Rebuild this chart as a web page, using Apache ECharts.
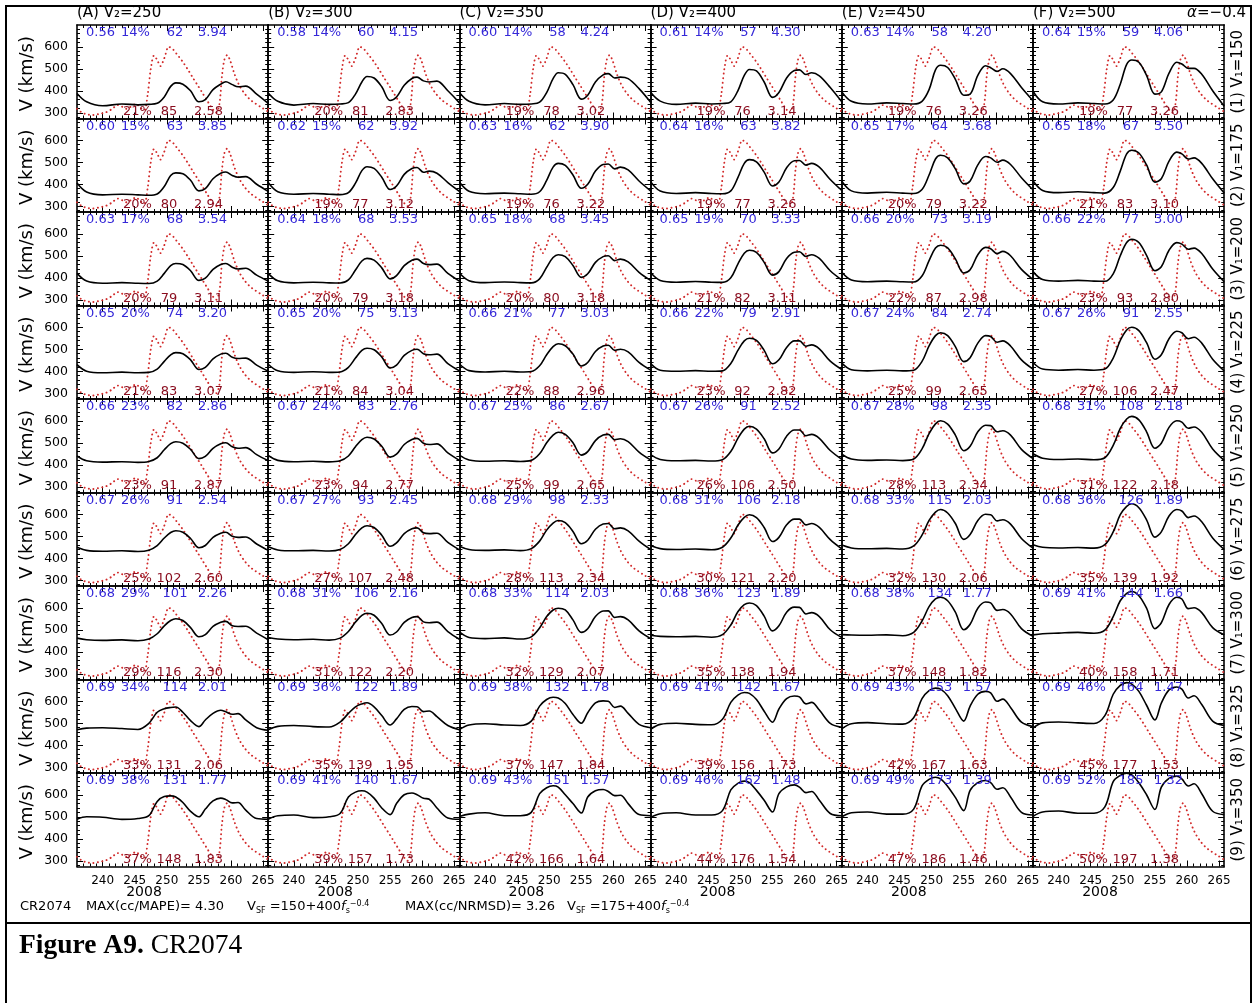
<!DOCTYPE html>
<html><head><meta charset="utf-8">
<script src="https://cdn.jsdelivr.net/npm/echarts@6/dist/echarts.min.js"></script>
<style>html,body{margin:0;padding:0;background:#fff}#c{width:1256px;height:1003px}</style>
</head><body><div id="c"></div>
<script>
const COLUMN_LABELS = ['(A)','(B)','(C)','(D)','(E)','(F)'];
const V2_VALUES = [250,300,350,400,450,500];
const V1_VALUES = [150,175,200,225,250,275,300,325,350];
const X_MIN = 236.0, X_MAX = 265.8, Y_MIN = 274, Y_MAX = 699;
const X_TICKS = [240,245,250,255,260,265];
const X_MINOR = [237,238,239,241,242,243,244,246,247,248,249,251,252,253,254,256,257,258,259,261,262,263,264];
const Y_TICKS = [300,400,500,600];
const Y_MINOR = [280,320,340,360,380,420,440,460,480,520,540,560,580,620,640,660,680];

// observed solar wind speed (red dotted), day of year 2008
const OBS_DAY = [236.0,236.7,237.5,238.5,239.5,240.5,241.5,242.3,243.0,243.7,244.5,245.2,245.9,246.5,247.0,247.5,248.0,248.5,249.0,249.6,250.3,250.9,251.6,252.4,253.2,254.0,254.8,255.6,256.4,257.1,257.7,258.2,258.6,259.0,259.4,259.9,260.5,261.2,262.0,262.9,263.8,264.7,265.8];
const OBS_V   = [318,302,293,290,295,302,318,335,328,318,330,340,322,312,380,500,560,540,512,548,600,590,565,535,500,462,425,388,350,318,300,340,470,545,562,535,480,430,392,362,342,325,305];

// model speed (black), sampled at these days
const MODEL_DAY = [236.0,237.5,240.0,243.0,245.5,247.2,248.5,249.6,250.6,251.4,252.5,253.7,255.0,256.0,257.2,258.4,259.2,260.2,261.1,262.3,264.0,265.8];
const MODEL_ROW1 = [
 [388,350,332,340,336,338,343,372,420,436,430,400,350,360,405,430,441,428,418,421,385,343],
 [390,352,335,342,338,340,346,385,440,465,458,418,356,372,425,456,462,445,440,444,400,345],
 [392,352,336,342,338,340,348,392,455,482,475,428,362,380,440,472,478,458,462,455,410,348],
 [393,353,338,344,340,342,350,400,470,497,490,440,370,392,458,492,495,474,482,468,415,350],
 [395,352,340,345,342,340,352,405,495,516,506,452,380,385,470,514,505,488,500,478,415,355],
 [398,350,340,345,342,340,358,430,520,540,530,470,385,395,480,530,522,502,502,475,400,330]];
const MODEL_ROW2 = [
 [406,365,352,355,352,350,356,390,440,452,448,418,370,380,425,450,456,440,432,435,400,368],
 [408,366,355,358,355,353,362,405,462,480,472,432,376,392,445,472,476,455,460,450,408,368],
 [410,368,357,360,357,355,366,418,478,495,486,442,382,400,460,490,492,470,478,465,415,370],
 [412,369,358,362,358,357,370,430,495,512,502,455,392,410,475,507,508,487,495,478,422,372],
 [414,370,360,364,360,358,376,442,515,532,520,470,402,415,488,526,520,500,510,490,430,375],
 [416,372,362,366,362,360,385,460,538,555,542,488,410,425,505,546,538,515,520,495,425,360]];
const MODEL_ROW3 = [
 [420,385,375,378,375,374,385,420,455,465,460,432,388,398,438,460,465,448,440,443,412,385],
 [420,386,377,380,377,376,390,435,476,488,480,445,395,410,455,480,485,465,460,462,420,385],
 [422,387,378,381,378,377,395,448,492,505,496,456,402,418,470,496,500,478,485,472,425,388],
 [424,388,380,383,380,379,400,462,512,525,515,470,412,428,488,516,518,497,505,488,432,390],
 [425,390,382,385,382,381,408,478,535,548,536,486,422,436,505,538,532,510,520,500,438,392],
 [428,392,385,388,385,384,418,500,560,575,560,502,432,450,525,560,553,530,535,510,440,382]];
const MODEL_ROW4 = [
 [430,400,393,396,393,395,410,445,475,485,480,452,408,418,456,478,482,464,458,460,428,400],
 [432,402,395,398,395,397,418,460,495,505,498,465,415,428,472,495,500,480,475,478,435,402],
 [433,403,397,400,397,399,425,475,512,525,516,478,424,440,490,515,518,495,500,488,440,405],
 [435,405,400,403,400,402,435,495,538,550,540,495,434,452,508,538,538,514,520,502,446,408],
 [437,407,402,405,402,405,445,515,562,575,562,512,444,462,528,562,558,532,538,515,452,410],
 [440,410,405,408,405,410,460,540,588,600,585,530,455,475,548,582,575,548,555,528,455,402]];
const MODEL_ROW5 = [
 [440,418,412,414,411,415,432,468,496,505,498,470,428,438,475,496,500,482,475,478,446,418],
 [442,420,414,416,413,418,440,482,514,525,517,484,435,448,492,515,520,498,492,495,454,420],
 [444,422,416,418,415,420,450,500,535,548,538,500,444,460,510,535,538,514,518,505,458,422],
 [446,424,418,420,417,423,460,520,562,575,562,518,454,472,530,558,558,532,538,520,465,425],
 [448,426,420,422,419,426,472,542,586,600,585,535,464,484,550,580,578,550,555,535,470,428],
 [450,430,424,426,423,432,488,565,608,620,604,550,475,498,570,600,594,566,572,548,472,420]];
const MODEL_ROW6 = [
 [450,436,432,434,431,437,458,492,517,525,518,490,448,458,495,514,518,500,495,497,465,436],
 [452,438,434,436,433,440,466,508,538,548,540,505,455,470,512,534,538,516,512,514,472,438],
 [455,440,436,438,435,444,478,528,560,572,562,522,466,482,532,556,558,534,538,525,478,440],
 [458,444,440,442,439,450,492,550,586,598,585,540,476,495,552,578,578,552,558,540,485,443],
 [460,447,443,445,442,456,505,572,610,622,606,558,486,508,572,600,598,570,575,555,490,446],
 [462,450,447,449,446,462,520,598,636,648,630,575,496,520,592,622,615,585,592,566,492,440]];
const MODEL_ROW7 = [
 [462,455,452,454,450,458,482,518,542,550,542,510,468,478,515,534,538,518,515,516,485,455],
 [465,458,455,457,453,462,492,535,565,575,566,528,476,490,534,556,560,536,532,535,492,457],
 [490,465,460,463,458,468,508,560,590,598,590,545,488,505,560,585,586,556,560,545,495,460],
 [475,470,468,470,466,478,522,582,614,622,610,562,495,518,580,603,602,572,578,560,500,465],
 [478,476,475,477,473,488,540,605,640,648,632,580,500,525,598,626,622,588,592,572,505,470],
 [477,482,485,488,484,498,560,632,666,674,655,598,505,532,615,648,640,596,600,578,510,477]];
const MODEL_ROW8 = [
 [471,478,480,476,472,500,550,566,572,574,550,512,485,515,545,559,552,541,544,515,480,468],
 [471,486,490,485,483,505,545,575,588,593,575,535,492,520,563,576,575,553,556,530,490,471],
 [471,492,498,492,490,510,578,608,618,615,590,540,500,548,593,602,600,572,578,545,495,480],
 [473,495,500,495,493,518,595,628,640,636,608,555,505,565,612,624,620,588,595,560,500,482],
 [475,498,503,498,496,525,612,648,660,655,625,568,510,578,632,645,638,600,610,572,505,485],
 [478,502,506,502,499,535,632,672,685,678,645,582,515,592,652,665,655,615,625,585,510,490]];
const MODEL_ROW9 = [
 [489,500,498,488,492,505,570,592,595,590,565,525,500,535,572,585,578,563,565,530,492,489],
 [489,505,508,496,500,515,590,612,618,612,585,540,510,560,600,608,600,584,580,540,495,489],
 [501,512,518,505,505,520,605,632,641,635,600,560,517,590,618,624,615,596,598,560,510,505],
 [497,514,518,508,508,528,622,652,662,655,620,575,522,605,636,645,635,610,615,575,515,505],
 [500,518,522,512,512,535,640,670,680,672,638,588,528,620,655,665,655,625,632,590,520,508],
 [502,522,526,516,516,545,660,688,698,690,655,600,533,635,675,685,672,640,650,605,525,510]];
const MODEL = [MODEL_ROW1,MODEL_ROW2,MODEL_ROW3,MODEL_ROW4,MODEL_ROW5,MODEL_ROW6,MODEL_ROW7,MODEL_ROW8,MODEL_ROW9];

// statistics printed in each panel
const CC = [
 ['0.56','0.58','0.60','0.61','0.63','0.64'],
 ['0.60','0.62','0.63','0.64','0.65','0.65'],
 ['0.63','0.64','0.65','0.65','0.66','0.66'],
 ['0.65','0.65','0.66','0.66','0.67','0.67'],
 ['0.66','0.67','0.67','0.67','0.67','0.68'],
 ['0.67','0.67','0.68','0.68','0.68','0.68'],
 ['0.68','0.68','0.68','0.68','0.68','0.69'],
 ['0.69','0.69','0.69','0.69','0.69','0.69'],
 ['0.69','0.69','0.69','0.69','0.69','0.69']];
const PCT_TOP = [
 ['14%','14%','14%','14%','14%','15%'],
 ['15%','15%','16%','16%','17%','18%'],
 ['17%','18%','18%','19%','20%','22%'],
 ['20%','20%','21%','22%','24%','26%'],
 ['23%','24%','25%','26%','28%','31%'],
 ['26%','27%','29%','31%','33%','36%'],
 ['29%','31%','33%','36%','38%','41%'],
 ['34%','36%','38%','41%','43%','46%'],
 ['38%','41%','43%','46%','49%','52%']];
const N_TOP = [
 [62,60,58,57,58,59],
 [63,62,62,63,64,67],
 [68,68,68,70,73,77],
 [74,75,77,79,84,91],
 [82,83,86,91,98,108],
 [91,93,98,106,115,126],
 [101,106,114,123,134,144],
 [114,122,132,142,153,164],
 [131,140,151,162,173,185]];
const RATIO_TOP = [
 ['3.94','4.15','4.24','4.30','4.20','4.06'],
 ['3.85','3.92','3.90','3.82','3.68','3.50'],
 ['3.54','3.53','3.45','3.33','3.19','3.00'],
 ['3.20','3.13','3.03','2.91','2.74','2.55'],
 ['2.86','2.76','2.67','2.52','2.35','2.18'],
 ['2.54','2.45','2.33','2.18','2.03','1.89'],
 ['2.26','2.16','2.03','1.89','1.77','1.66'],
 ['2.01','1.89','1.78','1.67','1.57','1.47'],
 ['1.77','1.67','1.57','1.48','1.39','1.32']];
const PCT_BOT = [
 ['21%','20%','19%','19%','19%','19%'],
 ['20%','19%','19%','19%','20%','21%'],
 ['20%','20%','20%','21%','22%','23%'],
 ['21%','21%','22%','23%','25%','27%'],
 ['23%','23%','25%','26%','28%','31%'],
 ['25%','27%','28%','30%','32%','35%'],
 ['29%','31%','32%','35%','37%','40%'],
 ['33%','35%','37%','39%','42%','45%'],
 ['37%','39%','42%','44%','47%','50%']];
const N_BOT = [
 [85,81,78,76,76,77],
 [80,77,76,77,79,83],
 [79,79,80,82,87,93],
 [83,84,88,92,99,106],
 [91,94,99,106,113,122],
 [102,107,113,121,130,139],
 [116,122,129,138,148,158],
 [131,139,147,156,167,177],
 [148,157,166,176,186,197]];
const RATIO_BOT = [
 ['2.58','2.83','3.02','3.14','3.26','3.26'],
 ['2.94','3.12','3.22','3.26','3.22','3.10'],
 ['3.11','3.18','3.18','3.11','2.98','2.80'],
 ['3.07','3.04','2.96','2.82','2.65','2.47'],
 ['2.87','2.77','2.65','2.50','2.34','2.18'],
 ['2.60','2.48','2.34','2.20','2.06','1.92'],
 ['2.30','2.20','2.07','1.94','1.82','1.71'],
 ['2.06','1.95','1.84','1.73','1.63','1.53'],
 ['1.83','1.73','1.64','1.54','1.46','1.38']];

const chart = echarts.init(document.getElementById('c'), null, {renderer:'canvas', width:1256, height:1003});
const L0 = 77, CW = 191.2, T0 = 25, RH = 93.5;
const FONT = 'DejaVu Sans';
const BLACK = '#000';
const BLUE = '#3528d8';
const DRED = '#8a0c1e';
const OBS_COLOR = '#d22a2a';

const grids = [], xAxes = [], yAxes = [], series = [], graphics = [];
const obsData = OBS_DAY.map((d,i)=>[d, OBS_V[i]]);

function txt(x, y, s, color, size, align, extra) {
  return Object.assign({type:'text', x:x, y:y, silent:true, z:50,
    style:{text:s, fill:color, font: size+'px "'+FONT+'"', textAlign:align||'left', textVerticalAlign:'middle'}}, extra||{});
}

for (let r = 0; r < 9; r++) {
  for (let c = 0; c < 6; c++) {
    const gi = r*6 + c;
    const x0 = L0 + c*CW, y0 = T0 + r*RH;
    grids.push({left:x0, top:y0, width:CW, height:RH, containLabel:false});
    const lineStyle = {color:BLACK, width:1.6};
    const tickStyle = {color:BLACK, width:1};
    const bx = {gridIndex:gi, type:'value', min:X_MIN, max:X_MAX, splitLine:{show:false}};
    xAxes.push(Object.assign({}, bx, {position:'bottom',
      axisLine:{show:true, onZero:false, lineStyle:lineStyle},
      axisTick:{show:true, inside:true, length:6, customValues:X_TICKS, lineStyle:tickStyle},
      axisLabel:{show:r===8, customValues:X_TICKS, color:BLACK, fontSize:12, fontFamily:FONT, margin:8}}));
    xAxes.push(Object.assign({}, bx, {position:'bottom',
      axisLine:{show:false}, axisTick:{show:true, inside:true, length:3, customValues:X_MINOR, lineStyle:tickStyle},
      axisLabel:{show:false}}));
    xAxes.push(Object.assign({}, bx, {position:'top',
      axisLine:{show:true, onZero:false, lineStyle:lineStyle},
      axisTick:{show:true, inside:true, length:6, customValues:X_TICKS, lineStyle:tickStyle},
      axisLabel:{show:false}}));
    xAxes.push(Object.assign({}, bx, {position:'top',
      axisLine:{show:false}, axisTick:{show:true, inside:true, length:3, customValues:X_MINOR, lineStyle:tickStyle},
      axisLabel:{show:false}}));
    const by = {gridIndex:gi, type:'value', min:Y_MIN, max:Y_MAX, splitLine:{show:false}};
    yAxes.push(Object.assign({}, by, {position:'left',
      axisLine:{show:true, onZero:false, lineStyle:lineStyle},
      axisTick:{show:true, inside:true, length:6, customValues:Y_TICKS, lineStyle:tickStyle},
      axisLabel:{show:c===0, customValues:Y_TICKS, color:BLACK, fontSize:12.5, fontFamily:FONT, margin:9}}));
    yAxes.push(Object.assign({}, by, {position:'left',
      axisLine:{show:false}, axisTick:{show:true, inside:true, length:3, customValues:Y_MINOR, lineStyle:tickStyle},
      axisLabel:{show:false}}));
    yAxes.push(Object.assign({}, by, {position:'right',
      axisLine:{show:true, onZero:false, lineStyle:lineStyle},
      axisTick:{show:true, inside:true, length:6, customValues:Y_TICKS, lineStyle:tickStyle},
      axisLabel:{show:false}}));
    yAxes.push(Object.assign({}, by, {position:'right',
      axisLine:{show:false}, axisTick:{show:true, inside:true, length:3, customValues:Y_MINOR, lineStyle:tickStyle},
      axisLabel:{show:false}}));

    series.push({type:'line', xAxisIndex:gi*4, yAxisIndex:gi*4, data:obsData, symbol:'none',
      smooth:0.3, clip:true, z:3, silent:true,
      lineStyle:{color:OBS_COLOR, width:1.9, type:[0.1,4.4], cap:'round'}});
    series.push({type:'line', xAxisIndex:gi*4, yAxisIndex:gi*4,
      data:MODEL_DAY.map((d,i)=>[d, MODEL[r][c][i]]), symbol:'none',
      smooth:0.35, clip:true, z:4, silent:true,
      lineStyle:{color:BLACK, width:1.6}});

    // stats text
    const ty = y0 + 8, by2 = y0 + RH - 7;
    graphics.push(txt(x0+9, ty, CC[r][c], BLUE, 13));
    graphics.push(txt(x0+44, ty, PCT_TOP[r][c], BLUE, 13));
    graphics.push(txt(x0+98, ty, String(N_TOP[r][c]), BLUE, 13, 'center'));
    graphics.push(txt(x0+121, ty, RATIO_TOP[r][c], BLUE, 13));
    graphics.push(txt(x0+46, by2, PCT_BOT[r][c], DRED, 13));
    graphics.push(txt(x0+92, by2, String(N_BOT[r][c]), DRED, 13, 'center'));
    graphics.push(txt(x0+117, by2, RATIO_BOT[r][c], DRED, 13));
  }
  // row labels
  const yc = T0 + r*RH + RH/2;
  graphics.push(txt(27, yc+2, 'V (km/s)', BLACK, 18, 'center', {rotation:Math.PI/2}));
  graphics.push(txt(1238, yc, '(' + (r+1) + ') V\u2081=' + V1_VALUES[r], BLACK, 15, 'center', {rotation:Math.PI/2}));
}
// column titles
for (let c = 0; c < 6; c++) {
  graphics.push(txt(L0 + c*CW + 0, 13, COLUMN_LABELS[c] + ' V\u2082=' + V2_VALUES[c], BLACK, 15));
  graphics.push(txt(L0 + c*CW + 67, 892, '2008', BLACK, 14, 'center'));
}
graphics.push({type:'text', x:1246, y:13, silent:true, style:{
  text:'{i|\u03b1}{n|=\u22120.4}', textAlign:'right', textVerticalAlign:'middle',
  rich:{i:{fontFamily:FONT, fontSize:15, fontStyle:'italic', fill:BLACK}, n:{fontFamily:FONT, fontSize:15, fill:BLACK}}}});

// footer
const footRich = {
  n:{fontFamily:FONT, fontSize:13, fill:BLACK, verticalAlign:'middle', lineHeight:20},
  it:{fontFamily:FONT, fontSize:13, fontStyle:'italic', fill:BLACK, verticalAlign:'middle', lineHeight:20},
  sub:{fontFamily:FONT, fontSize:8, fill:BLACK, verticalAlign:'bottom', lineHeight:20, padding:[0,0,2,0]},
  sup:{fontFamily:FONT, fontSize:8, fill:BLACK, verticalAlign:'top', lineHeight:20, padding:[3,0,0,0]}
};
function foot(x, s) {
  graphics.push({type:'text', x:x, y:907, silent:true, style:{text:s, rich:footRich, textVerticalAlign:'middle'}});
}
foot(20, '{n|CR2074}');
foot(86, '{n|MAX(cc/MAPE)= 4.30}');
foot(247, '{n|V}{sub|SF}{n| =150+400}{it|f}{sub|s}{sup|\u22120.4}');
foot(405, '{n|MAX(cc/NRMSD)= 3.26}');
foot(567, '{n|V}{sub|SF}{n| =175+400}{it|f}{sub|s}{sup|\u22120.4}');

// frame and caption
graphics.push({type:'rect', silent:true, z:60, shape:{x:6, y:6, width:1245, height:1010},
  style:{fill:'none', stroke:BLACK, lineWidth:2}});
graphics.push({type:'line', silent:true, z:60, shape:{x1:6, y1:923, x2:1251, y2:923},
  style:{stroke:BLACK, lineWidth:2}});
graphics.push({type:'text', x:19, y:946, silent:true, style:{
  text:'{b|Figure A9.}{r| CR2074}', textVerticalAlign:'middle',
  rich:{b:{fontFamily:'Liberation Serif', fontSize:27.5, fontWeight:'bold', fill:BLACK},
        r:{fontFamily:'Liberation Serif', fontSize:27.5, fill:BLACK}}}});

chart.setOption({
  animation:false,
  backgroundColor:'#fff',
  grid:grids, xAxis:xAxes, yAxis:yAxes, series:series,
  graphic:{elements:graphics}
});
</script>
</body></html>
